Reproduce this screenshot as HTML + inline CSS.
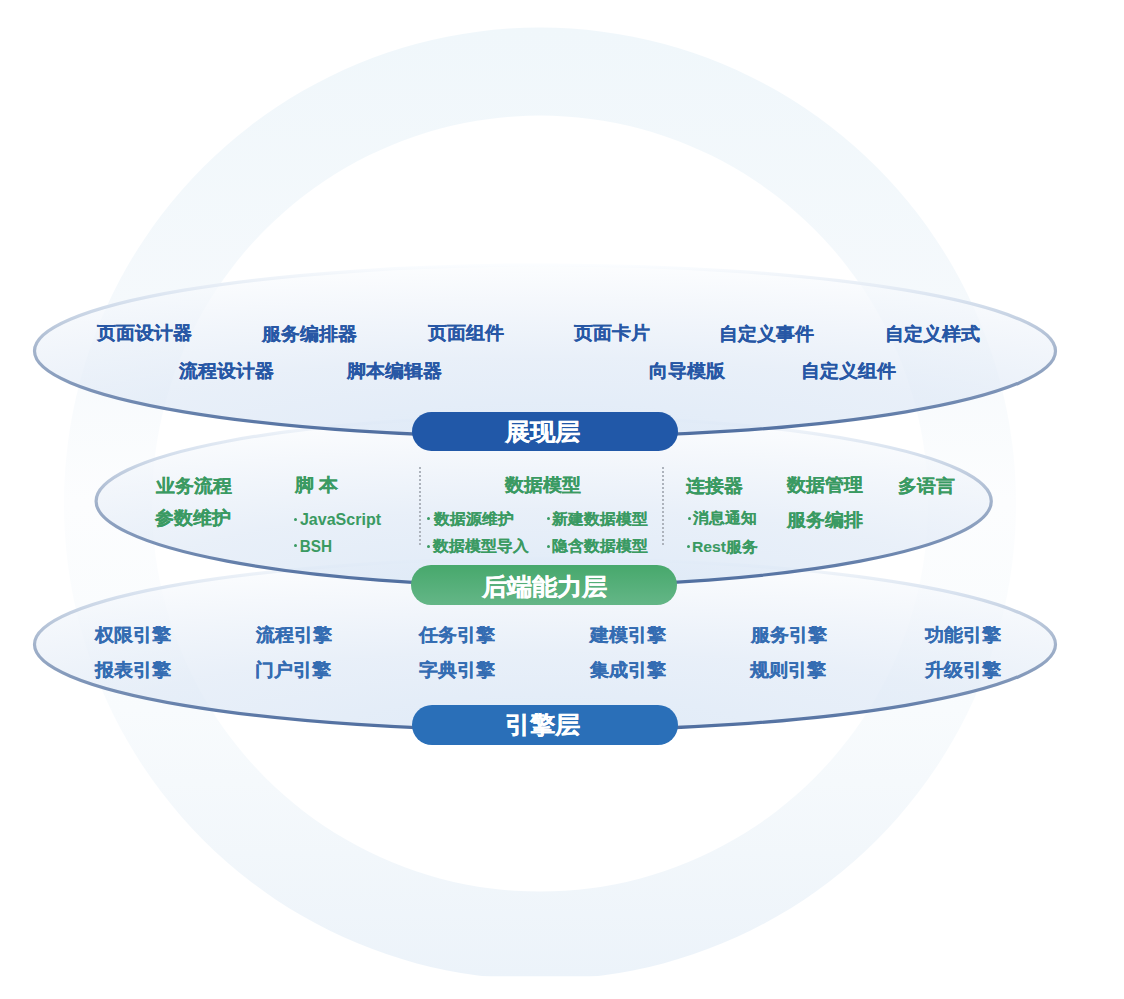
<!DOCTYPE html>
<html><head><meta charset="utf-8">
<style>
html,body{margin:0;padding:0;background:#fff;}
body{width:1124px;height:999px;position:relative;overflow:hidden;font-family:"Liberation Sans",sans-serif;font-weight:bold;}
svg.bg{position:absolute;left:0;top:0;}
.t{position:absolute;white-space:nowrap;line-height:1;}
.b{font-size:19.2px;color:#2757a5;-webkit-text-stroke:0.15px #2757a5;}.g{font-size:19.1px;color:#3a9a62;-webkit-text-stroke:0.15px #3a9a62;}.s{font-size:15.7px;color:#3a9a62;-webkit-text-stroke:0.1px #3a9a62;}.sl{font-size:16px;color:#3a9a62;-webkit-text-stroke:0.0px #3a9a62;}.e{font-size:19.0px;color:#346cb2;-webkit-text-stroke:0.2px #346cb2;}.p{font-size:25px;color:#ffffff;-webkit-text-stroke:0.2px #ffffff;}
.p{color:#fff;}
.d{position:absolute;width:3px;height:3px;border-radius:50%;background:#3a9a62;}
.pill{position:absolute;border-radius:20px;}
</style></head><body>
<svg class="bg" width="1124" height="999" viewBox="0 0 1124 999">
<defs>
 <linearGradient id="ring" x1="0" y1="28" x2="0" y2="976" gradientUnits="userSpaceOnUse">
  <stop offset="0" stop-color="#f0f7fb"/>
  <stop offset="0.3" stop-color="#f5f9fc"/>
  <stop offset="0.5" stop-color="#fcfdfe"/>
  <stop offset="0.72" stop-color="#f8fbfd"/>
  <stop offset="0.87" stop-color="#f2f7fb"/>
  <stop offset="1" stop-color="#ecf3fa"/>
 </linearGradient>
 <radialGradient id="fill" cx="0.5" cy="1" r="1" fx="0.5" fy="1">
  <stop offset="0" stop-color="#d3e2f4" stop-opacity="0.7"/>
  <stop offset="0.45" stop-color="#dfe9f6" stop-opacity="0.7"/>
  <stop offset="0.75" stop-color="#eef3fa" stop-opacity="0.7"/>
  <stop offset="1" stop-color="#fafcfe" stop-opacity="0.7"/>
 </radialGradient>
 <linearGradient id="strk" x1="0" y1="0" x2="0" y2="1">
  <stop offset="0" stop-color="#fbfdff"/>
  <stop offset="0.2" stop-color="#d8e2ef"/>
  <stop offset="0.5" stop-color="#a3b3cb"/>
  <stop offset="1" stop-color="#4d6c9e"/>
 </linearGradient>
 <clipPath id="clip"><rect x="0" y="0" width="1124" height="976.2"/></clipPath>
</defs>
<path clip-path="url(#clip)" fill="url(#ring)" fill-rule="evenodd" d="M540 27.6a476 476 0 1 0 0.01 0zM540 115.6a388 388 0 1 0 0.01 0z"/>
<ellipse cx="545" cy="644.5" rx="510.5" ry="86" fill="url(#fill)" stroke="url(#strk)" stroke-width="3.2"/>
<ellipse cx="543.7" cy="501.2" rx="447.6" ry="84.8" fill="url(#fill)" stroke="url(#strk)" stroke-width="3.2"/>
<ellipse cx="545" cy="351" rx="510.5" ry="86" fill="url(#fill)" stroke="url(#strk)" stroke-width="3.2"/>
<line x1="420" y1="467" x2="420" y2="545" stroke="#adb3bc" stroke-width="2" stroke-dasharray="2 2"/>
<line x1="663" y1="467" x2="663" y2="545" stroke="#adb3bc" stroke-width="2" stroke-dasharray="2 2"/>
</svg>

<div class="pill" style="left:412px;top:412px;width:266px;height:39px;background:#2158a8"></div><div class="pill" style="left:411px;top:565px;width:266px;height:39.5px;background:linear-gradient(#47a86c,#64b687)"></div><div class="pill" style="left:412px;top:705px;width:266px;height:39.5px;background:#2a6fb8"></div>
<div class="t b" style="left:96.55px;top:323.45px;transform:scale(1.000,0.950);transform-origin:47.25px 8.50px;">页面设计器</div>
<div class="t b" style="left:261.88px;top:323.57px;transform:scale(1.000,0.950);transform-origin:47.12px 8.38px;">服务编排器</div>
<div class="t b" style="left:428.00px;top:323.32px;transform:scale(1.000,0.950);transform-origin:37.75px 8.62px;">页面组件</div>
<div class="t b" style="left:573.60px;top:323.45px;transform:scale(1.000,0.950);transform-origin:37.75px 8.50px;">页面卡片</div>
<div class="t b" style="left:719.23px;top:323.70px;transform:scale(1.000,0.950);transform-origin:48.62px 8.25px;">自定义事件</div>
<div class="t b" style="left:884.53px;top:323.70px;transform:scale(1.000,0.950);transform-origin:48.62px 8.25px;">自定义样式</div>
<div class="t b" style="left:179.32px;top:361.10px;transform:scale(1.000,0.950);transform-origin:47.38px 8.00px;">流程设计器</div>
<div class="t b" style="left:346.50px;top:360.73px;transform:scale(1.000,0.950);transform-origin:47.25px 8.38px;">脚本编辑器</div>
<div class="t b" style="left:649.00px;top:360.60px;transform:scale(1.000,0.950);transform-origin:38.75px 8.50px;">向导模版</div>
<div class="t b" style="left:801.42px;top:360.85px;transform:scale(1.000,0.950);transform-origin:48.62px 8.25px;">自定义组件</div>
<div class="t g" style="left:155.80px;top:475.52px;transform:scale(1.000,0.950);transform-origin:37.75px 8.12px;">业务流程</div>
<div class="t g" style="left:155.20px;top:507.80px;transform:scale(1.000,0.950);transform-origin:37.50px 8.50px;">参数维护</div>
<div class="t g" style="left:294.75px;top:475.27px;transform:scale(1.000,0.950);transform-origin:21.50px 8.38px;">脚 本</div>
<div class="t g" style="left:505.08px;top:474.73px;transform:scale(1.000,0.950);transform-origin:37.62px 8.62px;">数据模型</div>
<div class="t g" style="left:685.67px;top:475.70px;transform:scale(1.000,0.950);transform-origin:28.38px 8.25px;">连接器</div>
<div class="t g" style="left:787.12px;top:475.20px;transform:scale(1.000,0.950);transform-origin:37.62px 8.75px;">数据管理</div>
<div class="t g" style="left:897.58px;top:475.95px;transform:scale(1.000,0.950);transform-origin:28.62px 8.00px;">多语言</div>
<div class="t g" style="left:787.25px;top:509.60px;transform:scale(1.000,0.950);transform-origin:37.50px 8.25px;">服务编排</div>
<div class="t sl" style="left:300.35px;top:512.07px;transform:scale(1.002,1.000);transform-origin:40.50px 7.88px;">JavaScript</div>
<div class="t sl" style="left:299.02px;top:538.80px;transform:scale(0.957,1.000);transform-origin:16.88px 6.50px;">BSH</div>
<div class="t s" style="left:433.60px;top:510.60px;transform:scale(1.000,0.950);transform-origin:39.25px 6.50px;">数据源维护</div>
<div class="t s" style="left:433.05px;top:538.33px;transform:scale(1.000,0.950);transform-origin:47.75px 6.62px;">数据模型导入</div>
<div class="t s" style="left:552.38px;top:510.60px;transform:scale(1.000,0.950);transform-origin:47.62px 6.50px;">新建数据模型</div>
<div class="t s" style="left:552.00px;top:538.33px;transform:scale(1.000,0.950);transform-origin:48.00px 6.62px;">隐含数据模型</div>
<div class="t s" style="left:693.45px;top:510.30px;transform:scale(1.000,0.950);transform-origin:31.25px 6.50px;">消息通知</div>
<div class="t s" style="left:691.98px;top:538.62px;transform:scale(1.000,0.950);transform-origin:33.38px 6.62px;">Rest服务</div>
<div class="t e" style="left:95.47px;top:624.58px;transform:scale(1.000,0.950);transform-origin:37.62px 8.62px;">权限引擎</div>
<div class="t e" style="left:95.03px;top:659.57px;transform:scale(1.000,0.950);transform-origin:37.62px 8.62px;">报表引擎</div>
<div class="t e" style="left:255.98px;top:624.95px;transform:scale(1.000,0.950);transform-origin:37.88px 8.25px;">流程引擎</div>
<div class="t e" style="left:254.68px;top:659.95px;transform:scale(1.000,0.950);transform-origin:38.62px 8.25px;">门户引擎</div>
<div class="t e" style="left:419.12px;top:624.58px;transform:scale(1.000,0.950);transform-origin:37.62px 8.62px;">任务引擎</div>
<div class="t e" style="left:418.75px;top:659.82px;transform:scale(1.000,0.950);transform-origin:38.00px 8.38px;">字典引擎</div>
<div class="t e" style="left:590.38px;top:624.58px;transform:scale(1.000,0.950);transform-origin:37.38px 8.62px;">建模引擎</div>
<div class="t e" style="left:589.88px;top:659.57px;transform:scale(1.000,0.950);transform-origin:37.88px 8.62px;">集成引擎</div>
<div class="t e" style="left:750.92px;top:624.58px;transform:scale(1.000,0.950);transform-origin:37.62px 8.62px;">服务引擎</div>
<div class="t e" style="left:750.45px;top:659.57px;transform:scale(1.000,0.950);transform-origin:37.75px 8.62px;">规则引擎</div>
<div class="t e" style="left:924.88px;top:624.70px;transform:scale(1.000,0.950);transform-origin:37.88px 8.50px;">功能引擎</div>
<div class="t e" style="left:925.00px;top:659.82px;transform:scale(1.000,0.950);transform-origin:37.75px 8.38px;">升级引擎</div>
<div class="t p" style="left:505.15px;top:418.95px;transform:scale(1.000,0.950);transform-origin:37.00px 11.75px;">展现层</div>
<div class="t p" style="left:482.33px;top:573.88px;transform:scale(1.000,0.950);transform-origin:61.88px 11.12px;">后端能力层</div>
<div class="t p" style="left:504.80px;top:712.32px;transform:scale(1.000,0.950);transform-origin:38.00px 11.62px;">引擎层</div>
<i class="d" style="left:293.60px;top:517.70px"></i><i class="d" style="left:293.60px;top:544.40px"></i><i class="d" style="left:427.20px;top:516.70px"></i><i class="d" style="left:427.20px;top:544.80px"></i><i class="d" style="left:546.90px;top:517.00px"></i><i class="d" style="left:546.90px;top:544.80px"></i><i class="d" style="left:687.90px;top:516.90px"></i><i class="d" style="left:686.80px;top:544.80px"></i>
</body></html>
